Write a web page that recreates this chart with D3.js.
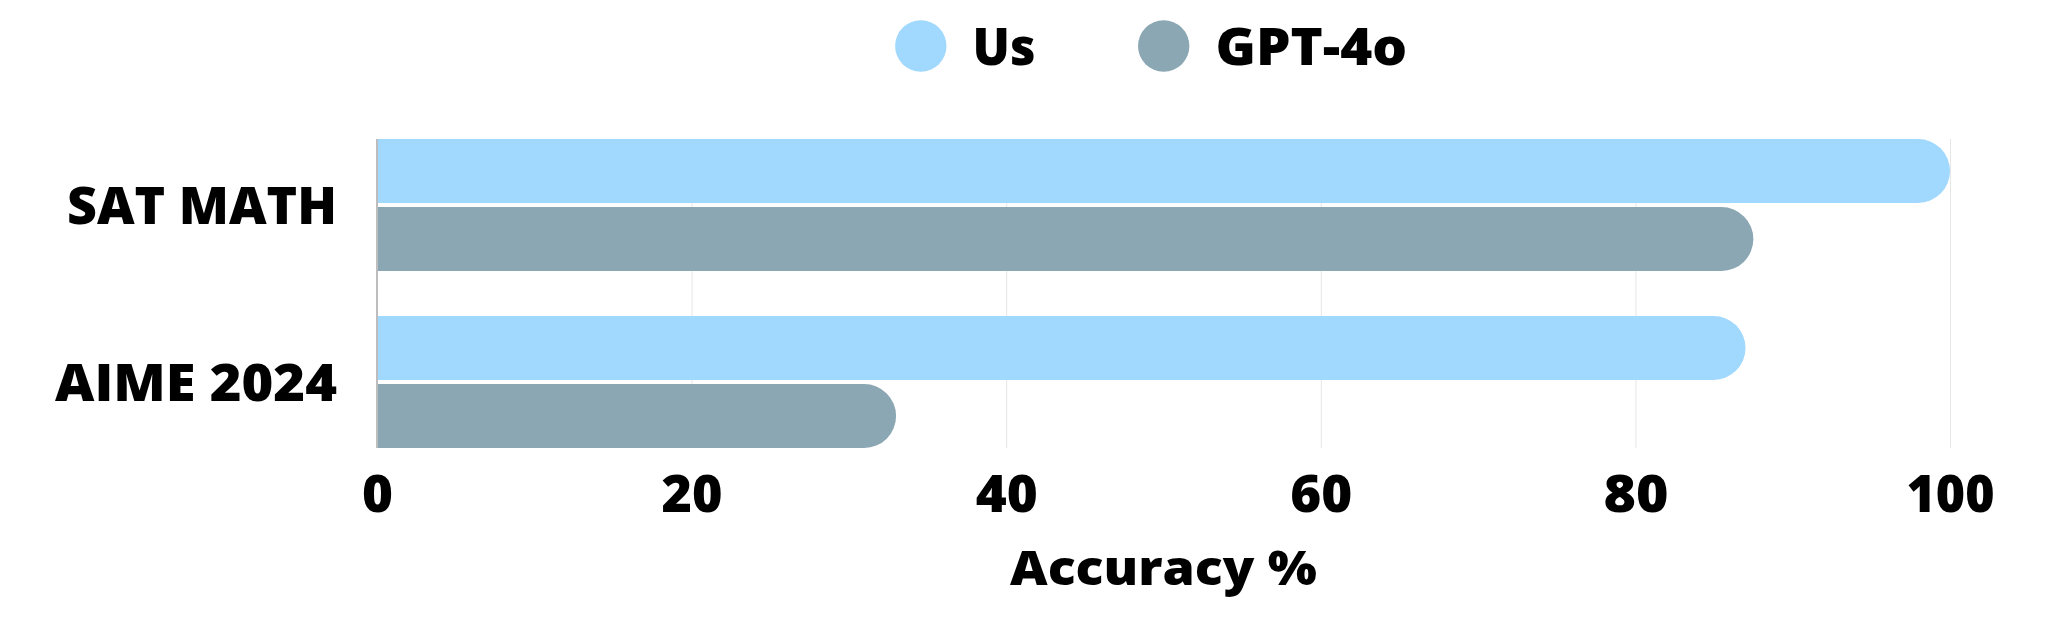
<!DOCTYPE html>
<html>
<head>
<meta charset="utf-8">
<script src="https://cdn.jsdelivr.net/npm/d3@7"></script>
<style>
  html, body { margin: 0; padding: 0; background: #ffffff; }
  svg { display: block; }
  text { font-family: "Open Sans", "DejaVu Sans", sans-serif; font-weight: 800; fill: #000; }
</style>
</head>
<body>
<svg id="chart" width="2048" height="619"></svg>
<script>
const categories = ["SAT MATH", "AIME 2024"];
const seriesNames = ["Us", "GPT-4o"];
const usValues = [100, 87];
const gpt4oValues = [87.5, 33];
const tickValues = [0, 20, 40, 60, 80, 100];
const xTitle = "Accuracy %";
const colors = ["#a1d8fd", "#8aa7b3"];

const svg = d3.select("#chart");
const plotLeft = 377, plotRight = 1950, plotTop = 139, plotBottom = 448;

const x = d3.scaleLinear().domain([0, 100]).range([plotLeft, plotRight]);
const y = d3.scaleBand().domain(categories).range([plotTop, plotBottom]).paddingInner(45 / 177).paddingOuter(0);
const ySub = d3.scaleBand().domain(seriesNames).range([0, y.bandwidth()]).paddingInner(0.06);

const seriesValues = [usValues, gpt4oValues];
const data = [];
categories.forEach((c, i) => {
  seriesNames.forEach((s, j) => data.push({ cat: c, series: s, value: seriesValues[j][i], color: colors[j] }));
});

// grid lines
svg.append("g").selectAll("line").data(tickValues.filter(d => d > 0)).join("line")
  .attr("x1", d => x(d) + 0.5).attr("x2", d => x(d) + 0.5)
  .attr("y1", plotTop).attr("y2", plotBottom)
  .attr("stroke", "#e6e6e6").attr("stroke-width", 1);

// bars with rounded right end
function barPath(x0, x1, y0, h) {
  const r = Math.min(h / 2, Math.max(0, (x1 - x0)));
  return `M${x0},${y0} H${x1 - r} A${r},${r} 0 0 1 ${x1},${y0 + r} A${r},${r} 0 0 1 ${x1 - r},${y0 + h} H${x0} Z`;
}
svg.append("g").selectAll("path").data(data).join("path")
  .attr("d", d => {
    const y0 = y(d.cat) + ySub(d.series);
    return barPath(x(0), x(d.value), y0, ySub.bandwidth());
  })
  .attr("fill", d => d.color);

// left axis line
svg.append("line")
  .attr("x1", x(0)).attr("x2", x(0)).attr("y1", plotTop).attr("y2", plotBottom)
  .attr("stroke", "#bdbdbd").attr("stroke-width", 2);

// x axis tick labels via d3 axis
const xAxis = d3.axisBottom(x).tickValues(tickValues).tickSize(0).tickPadding(0).tickFormat(d3.format("d"));
const gx = svg.append("g").attr("transform", `translate(0,${plotBottom})`).call(xAxis);
gx.select(".domain").remove();
const tickWidths = { "0": 31, "20": 61, "40": 62, "60": 62, "80": 65, "100": 88 };
gx.selectAll(".tick text")
  .attr("y", 64).attr("dy", null)
  .attr("font-size", 52)
  .attr("font-family", "\"Open Sans\", \"DejaVu Sans\", sans-serif")
  .attr("font-weight", 800)
  .attr("fill", "#000")
  .attr("textLength", d => tickWidths[String(d)])
  .attr("lengthAdjust", "spacingAndGlyphs");

// category labels via d3 axis
const yAxis = d3.axisLeft(y).tickSize(0).tickPadding(0);
const gy = svg.append("g").attr("transform", `translate(337,0)`).call(yAxis);
gy.select(".domain").remove();
const catWidths = { "SAT MATH": 270, "AIME 2024": 282 };
gy.selectAll(".tick text")
  .attr("x", 0).attr("dy", "0.36em")
  .attr("text-anchor", "end")
  .attr("font-size", 52)
  .attr("font-family", "\"Open Sans\", \"DejaVu Sans\", sans-serif")
  .attr("font-weight", 800)
  .attr("fill", "#000")
  .attr("textLength", d => catWidths[d])
  .attr("lengthAdjust", "spacingAndGlyphs");

// axis title
svg.append("text")
  .attr("x", (plotLeft + plotRight) / 2).attr("y", 585)
  .attr("text-anchor", "middle")
  .attr("font-size", 47)
  .attr("textLength", 307).attr("lengthAdjust", "spacingAndGlyphs")
  .text(xTitle);

// legend
const legendX = [920.8, 1163.7];
const legendW = [63, 191.7];
const lg = svg.append("g").selectAll("g").data(seriesNames).join("g");
lg.append("circle")
  .attr("cx", (d, i) => legendX[i]).attr("cy", 46)
  .attr("r", 25.7)
  .attr("fill", (d, i) => colors[i]);
lg.append("text")
  .attr("x", (d, i) => legendX[i] + 51.7).attr("y", 65)
  .attr("font-size", 51)
  .attr("textLength", (d, i) => legendW[i]).attr("lengthAdjust", "spacingAndGlyphs")
  .text(d => d);
</script>
</body>
</html>
